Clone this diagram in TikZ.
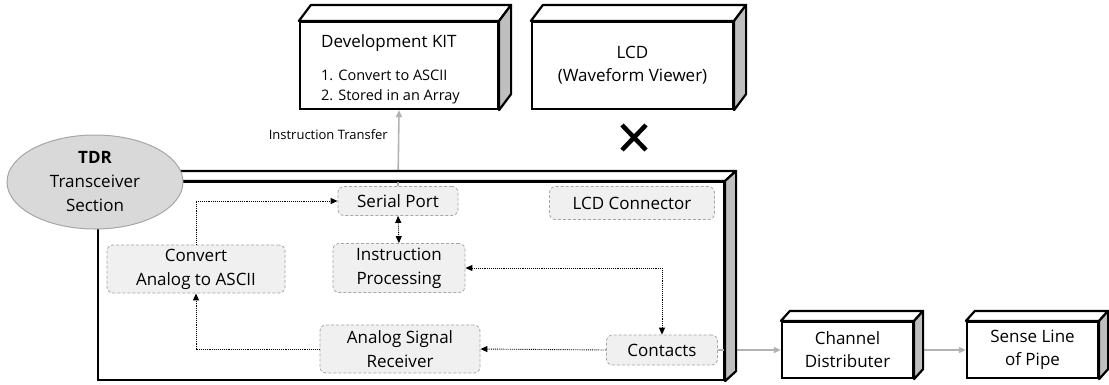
\documentclass[tikz,border=0pt]{standalone}
\usepackage{fontspec}
\setmainfont{Open Sans}
\usetikzlibrary{arrows.meta,shapes.geometric,calc}
\newcommand\boxfaces[3]{%
  \draw[topf] (#1.north west) -- ++(#2,-#3) -- ($(#1.north east)+(#2,-#3)$) -- (#1.north east) -- cycle;
  \draw[side] (#1.north east) -- ++(#2,-#3) -- ($(#1.south east)+(#2,-#3)$) -- (#1.south east) -- cycle;}
\tikzset{
  txt/.style={font=\fontsize{17}{23}\selectfont, align=center},
  box/.style={draw, line width=2.2pt, fill=white, align=center, inner sep=0pt, font=\fontsize{17}{23}\selectfont},
  side/.style={draw, line width=2.2pt, fill=gray!50, line join=round},
  topf/.style={draw, line width=2.2pt, fill=white, line join=round},
  inbox/.style={draw=gray!70, densely dashed, line width=0.8pt, rounded corners=6pt, fill=gray!12, align=center, inner sep=0pt, font=\fontsize{17}{24}\selectfont},
  link/.style={densely dotted, line width=0.9pt, -{Triangle[length=7pt,width=6pt]}},
  dlink/.style={densely dotted, line width=0.9pt, {Triangle[length=7pt,width=6pt]}-{Triangle[length=7pt,width=6pt]}},
  glink/.style={draw=gray!60, line width=1.6pt, -{Triangle[length=7pt,width=6pt]}},
}
\begin{document}
\begin{tikzpicture}[x=1pt,y=-1pt]
\useasboundingbox (0,0) rectangle (1109,384);
% front faces of 3D boxes
\node[box, minimum width=198, minimum height=87] (kit) at (399,65.5) {};
\node[box, minimum width=201, minimum height=87] (lcd) at (632.5,65.5) {LCD\\(Waveform Viewer)};
\node[box, minimum width=626, minimum height=198] (tdr) at (411,281) {};
\node[box, minimum width=131, minimum height=56] (ch) at (847.5,350) {Channel\\Distributer};
\node[box, minimum width=131, minimum height=56] (sl) at (1032.5,350) {Sense Line\\of Pipe};
% texts of the kit
\node[txt, anchor=west, inner sep=0pt] (kitt) at (321,43) {Development KIT};
\node[anchor=west, inner sep=0pt, align=left, font=\fontsize{14.5}{20}\selectfont] (kitl) at (321,87) {1. Convert to ASCII\\2. Stored in an Array};
% inner nodes
\node[inbox, minimum width=120, minimum height=29] (sp) at (398,201) {Serial Port};
\node[inbox, minimum width=165, minimum height=33] (lc) at (632,203) {LCD Connector};
\node[inbox, minimum width=132, minimum height=49] (ip) at (399,268) {Instruction\\Processing};
\node[inbox, minimum width=178, minimum height=48] (cv) at (196,269) {Convert\\Analog to ASCII};
\node[inbox, minimum width=160, minimum height=48] (asr) at (400,349) {Analog Signal\\Receiver};
\node[inbox, minimum width=111, minimum height=30] (ct) at (662,350) {Contacts};
% connectors
\draw[link] (cv.north) |- (sp.west);
\draw[dlink] (sp.south) -- (ip.north);
\draw[dlink] (ip.east) -| (ct.north);
\draw[link] (ct.west) -- (asr.east);
\draw[link] (asr.west) -| (cv.south);
\draw[glink] (sp.north) -- (kit.south);
\draw[glink] (ct.east) -- (ch.west);
\draw[glink] (ch.east) -- (sl.west);
\node[anchor=east, inner sep=0pt, font=\fontsize{13}{15}\selectfont] (itl) at (388,135) {Instruction Transfer};
% 3D faces
\boxfaces{kit}{12}{16}
\boxfaces{lcd}{12}{16}
\boxfaces{tdr}{11}{10}
\boxfaces{ch}{9}{10}
\boxfaces{sl}{9}{10}
% TDR ellipse
\node[ellipse, draw=gray!70, line width=1pt, fill=gray!30, minimum width=176, minimum height=94, inner sep=0pt, txt, font=\fontsize{17}{24}\selectfont] (el) at (95,182) {\textbf{TDR}\\Transceiver\\Section};
% X mark
\draw[line width=4.5pt] (622,125) -- (646,150) (646,125) -- (622,150);
\end{tikzpicture}
\end{document}
